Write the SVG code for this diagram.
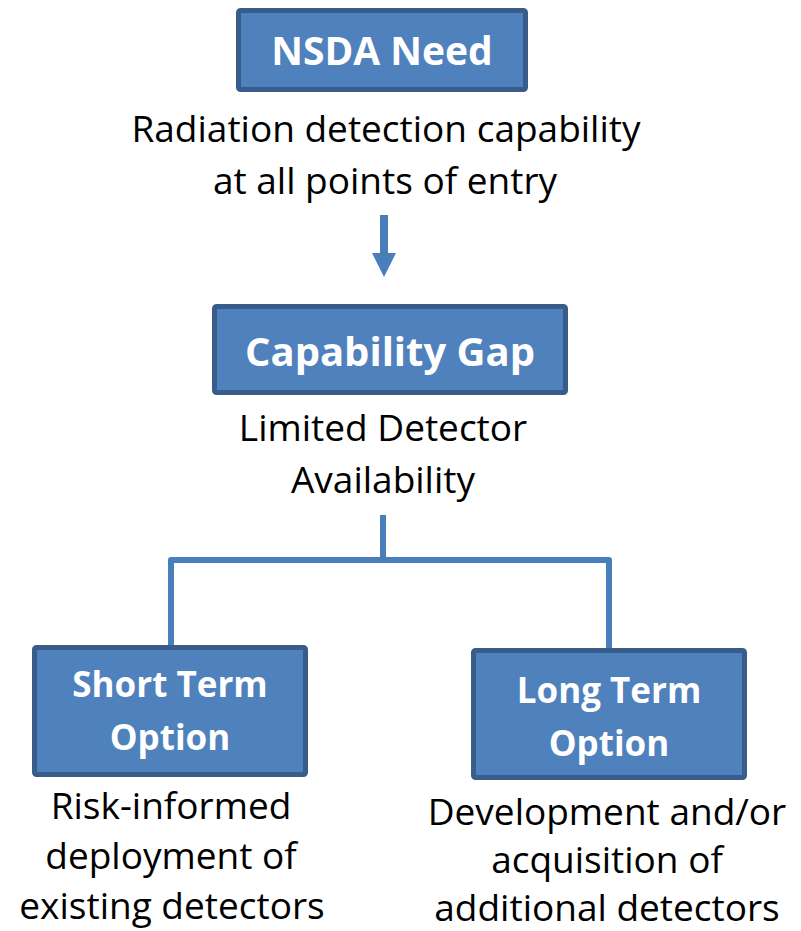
<svg xmlns="http://www.w3.org/2000/svg" width="801" height="931" viewBox="0 0 801 931">
<style>
.box{fill:#4F81BD;stroke:#385D8A;stroke-width:5}
.bt{font-family:"Open Sans",Lato,sans-serif;font-weight:bold;fill:#fff;text-anchor:middle}
.tx{font-family:"Open Sans",Lato,sans-serif;fill:#000;text-anchor:middle;font-size:37px}
.con{fill:none;stroke:#4A7EBB;stroke-width:6;stroke-linejoin:round}
</style>
<rect width="801" height="931" fill="#fff"/>
<g id="connectors">
<polygon points="380,215 388,215 388,253 396,253 384,277 372,253 380,253" fill="#4A7EBB"/>
<path class="con" d="M383,515 V560"/>
<path class="con" d="M171,646 V560 H609 V650"/>
</g>
<g id="nsda">
<rect class="box" x="238.5" y="10.5" width="287" height="79" rx="2"/>
<text class="bt" x="382" y="65" font-size="39">NSDA Need</text>
</g>
<g id="need-text">
<text class="tx" x="386" y="142">Radiation detection capability</text>
<text class="tx" x="385" y="194">at all points of entry</text>
</g>
<g id="gap">
<rect class="box" x="214.5" y="306.5" width="351" height="86" rx="2"/>
<text class="bt" x="390" y="366" font-size="40">Capability Gap</text>
</g>
<g id="gap-text">
<text class="tx" x="383" y="441">Limited Detector</text>
<text class="tx" x="383" y="493">Availability</text>
</g>
<g id="short">
<rect class="box" x="34.5" y="647.5" width="271" height="127" rx="2"/>
<text class="bt" x="170" y="697" font-size="35">Short Term</text>
<text class="bt" x="170" y="750" font-size="35">Option</text>
</g>
<g id="short-text">
<text class="tx" x="171" y="819">Risk-informed</text>
<text class="tx" x="171" y="869">deployment of</text>
<text class="tx" x="172" y="919">existing detectors</text>
</g>
<g id="long">
<rect class="box" x="473.5" y="650.5" width="271" height="127" rx="2"/>
<text class="bt" x="609" y="703" font-size="35">Long Term</text>
<text class="bt" x="609" y="756" font-size="35">Option</text>
</g>
<g id="long-text">
<text class="tx" x="607" y="825">Development and/or</text>
<text class="tx" x="607" y="873">acquisition of</text>
<text class="tx" x="607" y="921">additional detectors</text>
</g>
</svg>
